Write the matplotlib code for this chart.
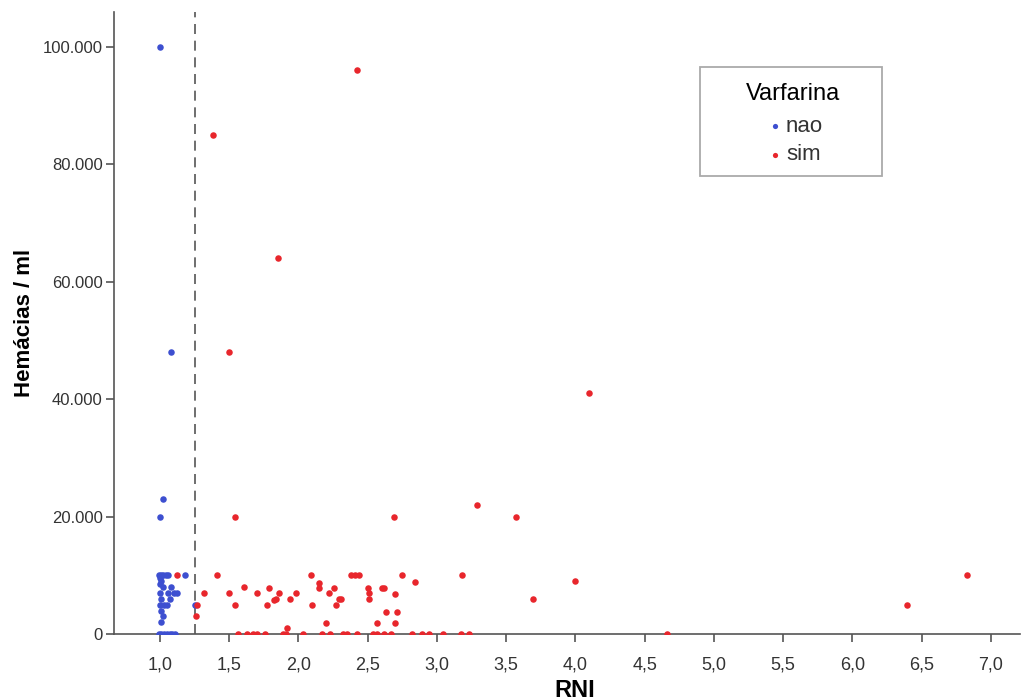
import matplotlib
matplotlib.use("Agg")
import matplotlib.pyplot as plt
from matplotlib.ticker import FuncFormatter
from matplotlib.patches import Rectangle
import numpy as np

# Varfarina = nao
nao_rni = [1.00, 1.02, 1.00, 1.08,
           0.99, 1.01, 1.02, 1.04, 1.06, 1.18,
           1.00, 1.01, 1.00, 1.02, 1.00, 1.01, 1.00, 1.01, 1.02, 1.01,
           1.06, 1.08, 1.10, 1.12, 1.05, 1.07, 1.03,
           1.25,
           0.99, 1.01, 1.03, 1.05, 1.07, 1.09, 1.11]
nao_hem = [100000, 23000, 20000, 48000,
           10000, 10000, 10000, 10000, 10000, 10000,
           9500, 9000, 8500, 8000, 7000, 6000, 5000, 4000, 3000, 2000,
           7000, 8000, 7000, 7000, 5000, 6000, 5000,
           5000,
           0, 0, 0, 0, 0, 0, 0]

# Varfarina = sim
sim_rni = [2.42, 1.38, 1.85, 1.50, 4.10, 1.54, 2.69, 3.29, 3.57, 4.00, 3.69, 4.66, 6.39, 6.83,
           1.12, 1.41, 1.27, 1.26, 1.32, 1.50, 1.61, 1.70, 1.54,
           2.09, 2.15, 2.15, 1.79, 1.86, 1.84, 1.82, 1.77, 1.94, 1.98, 2.10, 2.22, 2.26,
           2.29, 2.31, 2.27, 2.38, 2.41, 2.44, 2.50, 2.51, 2.51, 2.20, 1.92, 2.57,
           2.75, 2.84, 3.18, 2.60, 2.62, 2.70, 2.63, 2.71, 2.70,
           1.56, 1.63, 1.67, 1.70, 1.76, 1.89, 1.91, 2.03, 2.17, 2.23, 2.32, 2.35,
           2.42, 2.54, 2.57, 2.62, 2.67, 2.82, 2.89, 2.94, 3.04, 3.17, 3.23]
sim_hem = [96000, 85000, 64000, 48000, 41000, 20000, 20000, 22000, 20000, 9000, 6000, 0, 5000, 10000,
           10000, 10000, 5000, 3000, 7000, 7000, 8000, 7000, 5000,
           10000, 8700, 7800, 7800, 7000, 6000, 5800, 5000, 6000, 7000, 5000, 7000, 7800,
           6000, 6000, 5000, 10000, 10000, 10000, 7800, 7000, 6000, 1900, 1000, 1900,
           10000, 8800, 10000, 7800, 7800, 6800, 3700, 3700, 1900,
           0, 0, 0, 0, 0, 0, 0, 0, 0, 0, 0, 0,
           0, 0, 0, 0, 0, 0, 0, 0, 0, 0, 0]

ref_line = 1.25
x_ticks = np.arange(1.0, 7.01, 0.5)
y_ticks = [0, 20000, 40000, 60000, 80000, 100000]

plt.rcParams['font.family'] = ['Liberation Sans', 'DejaVu Sans']

fig = plt.figure(figsize=(10.25, 7), dpi=100)
ax = fig.add_axes([0.1112, 0.0943, 0.884, 0.889])

blue = '#3d4fd0'
red = '#e8262c'
ax.scatter(nao_rni, nao_hem, s=22, color=blue, label='nao', zorder=3, linewidths=0)
ax.scatter(sim_rni, sim_hem, s=22, color=red, label='sim', zorder=3, linewidths=0)
ax.axvline(ref_line, color='#555555', lw=1.2, ls=(0, (6, 4)), zorder=2)

ax.set_xlim(0.668, 7.21)
ax.set_ylim(0, 106000)
ax.set_xticks(x_ticks)
ax.set_yticks(y_ticks)
ax.xaxis.set_major_formatter(FuncFormatter(lambda v, p: f"{v:.1f}".replace('.', ',')))
ax.yaxis.set_major_formatter(FuncFormatter(lambda v, p: f"{int(v):,}".replace(',', '.')))

for side in ['top', 'right']:
    ax.spines[side].set_visible(False)
for side in ['left', 'bottom']:
    ax.spines[side].set_color('#555555')
    ax.spines[side].set_linewidth(1.2)
ax.tick_params(direction='out', length=6, width=1.2, color='#555555')
ax.tick_params(axis='y', labelsize=12, labelcolor='#333333', pad=2)
ax.tick_params(axis='x', labelsize=13, labelcolor='#333333', pad=10)
for lab in ax.get_xticklabels():
    lab.set_family(['Liberation Sans Narrow', 'Liberation Sans', 'DejaVu Sans'])

ax.set_xlabel('RNI', fontsize=17, fontweight='bold')
ax.xaxis.set_label_coords(0.509, -0.072)
ax.set_ylabel('Hemácias / ml', fontsize=16, fontweight='bold', labelpad=6)

# legend box
fig.patches.append(Rectangle((0.683, 0.7486), 0.1776, 0.1557, transform=fig.transFigure,
                             fill=False, edgecolor='#aaaaaa', lw=1.3, figure=fig))
leg = ax.legend(title='Varfarina', loc='upper center', bbox_to_anchor=(0.774, 0.882),
                bbox_transform=fig.transFigure, fontsize=16, title_fontsize=17,
                frameon=False, handletextpad=0.0, handlelength=1.0, borderpad=0,
                labelspacing=0.35, borderaxespad=0, markerscale=0.8)
leg._legend_box.sep = 8
for t in leg.get_texts():
    t.set_color('#333333')

fig.savefig('out.png', dpi=100)
